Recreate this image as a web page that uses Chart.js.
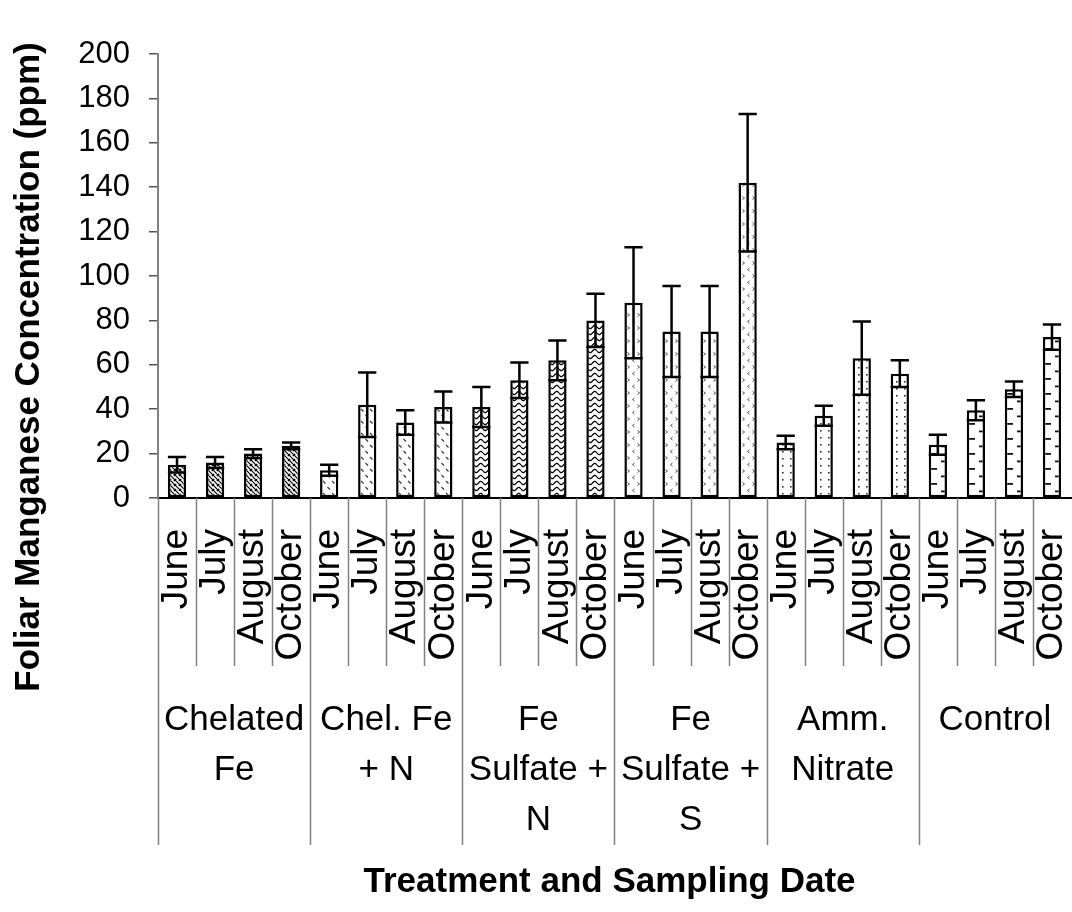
<!DOCTYPE html>
<html>
<head>
<meta charset="utf-8">
<script src="https://cdn.jsdelivr.net/npm/chart.js@4.4.1/dist/chart.umd.min.js"></script>
<style>
  body { margin: 0; background: #fff; }
  canvas { display: block; }
</style>
</head>
<body>
<canvas id="chart" width="1072" height="912"></canvas>
<script>
const months = ['June', 'July', 'August', 'October']
const treatments = [
  ['Chelated', 'Fe'],
  ['Chel. Fe', '+ N'],
  ['Fe', 'Sulfate +', 'N'],
  ['Fe', 'Sulfate +', 'S'],
  ['Amm.', 'Nitrate'],
  ['Control']
]
// mean Mn (ppm), 4 dates per treatment
const chelatedFe = [15, 16, 20, 23.5]
const chelFeN = [12.5, 42, 34, 41]
const feSulfateN = [41, 53, 62, 80]
const feSulfateS = [88, 75, 75, 142]
const ammNitrate = [25, 37, 63, 56]
const control = [24, 39.5, 49, 72.5]
// +/- error
const chelatedFeErr = [3.5, 2.5, 2, 1.5]
const chelFeNErr = [2.5, 14.5, 5.5, 7]
const feSulfateNErr = [9, 8, 9, 12]
const feSulfateSErr = [25, 20.5, 20.5, 31]
const ammNitrateErr = [3, 4.5, 16.5, 6]
const controlErr = [4.5, 4.5, 3.5, 5.7]
const yTicks = [0, 20, 40, 60, 80, 100, 120, 140, 160, 180, 200]

const values = [chelatedFe, chelFeN, feSulfateN, feSulfateS, ammNitrate, control].flat()
const errors = [chelatedFeErr, chelFeNErr, feSulfateNErr, feSulfateSErr, ammNitrateErr, controlErr].flat()
const labels = treatments.flatMap(() => months)

const FONT = "'Liberation Sans', Arial, sans-serif"
const canvas = document.getElementById('chart')
const ctx = canvas.getContext('2d')

function makePattern(w, h, draw) {
  const c = document.createElement('canvas')
  c.width = w
  c.height = h
  const g = c.getContext('2d')
  g.fillStyle = '#fff'
  g.fillRect(0, 0, w, h)
  draw(g)
  return ctx.createPattern(c, 'repeat')
}

const patternDraw = [
  // dense diagonal
  [5, 5, g => {
    g.strokeStyle = '#000'
    g.lineWidth = 1.2
    g.beginPath()
    g.moveTo(-1, -1); g.lineTo(6, 6)
    g.moveTo(3, -1); g.lineTo(6, 2)
    g.moveTo(-1, 3); g.lineTo(2, 6)
    g.stroke()
  }],
  // sparse diagonal dashes
  [9, 12, g => {
    g.strokeStyle = '#333'
    g.lineWidth = 1.1
    g.beginPath()
    g.moveTo(1, 1); g.lineTo(3.5, 3.5)
    g.moveTo(5.5, 7); g.lineTo(8, 9.5)
    g.stroke()
  }],
  // waves
  [9, 6, g => {
    g.strokeStyle = '#000'
    g.lineWidth = 1.2
    g.beginPath()
    for (let x = 0; x <= 9; x += 0.5) {
      const y = 3 + 1.6 * Math.sin(2 * Math.PI * x / 9)
      if (x === 0) g.moveTo(x, y)
      else g.lineTo(x, y)
    }
    g.stroke()
  }],
  // small chevrons
  [10, 13, g => {
    g.strokeStyle = '#555'
    g.lineWidth = 1
    g.beginPath()
    g.moveTo(1.5, 1.5); g.lineTo(3.5, 3); g.lineTo(1.5, 4.5)
    g.moveTo(8.5, 8); g.lineTo(6.5, 9.5); g.lineTo(8.5, 11)
    g.stroke()
  }],
  // dots
  [8, 7, g => {
    g.fillStyle = '#333'
    g.fillRect(3, 3, 1.6, 1.6)
  }],
  // alternating short dashes
  [17, 15, g => {
    g.fillStyle = '#111'
    g.fillRect(0, 3, 6, 1.8)
    g.fillRect(10, 10.5, 6, 1.8)
  }]
]

// one pattern per bar so each can be anchored at its own bar
const barPatterns = values.map((v, i) => {
  const [w, h, draw] = patternDraw[Math.floor(i / 4)]
  return makePattern(w, h, draw)
})

const anchorPatterns = {
  id: 'anchorPatterns',
  beforeDatasetsDraw(chart) {
    const meta = chart.getDatasetMeta(0)
    meta.data.forEach((bar, i) => {
      const left = bar.x - bar.width / 2
      barPatterns[i].setTransform(new DOMMatrix().translate(Math.round(left) + 2, 0))
    })
  }
}

const errorBars = {
  id: 'errorBars',
  afterDatasetsDraw(chart) {
    const { ctx } = chart
    const y = chart.scales.y
    const meta = chart.getDatasetMeta(0)
    ctx.save()
    ctx.strokeStyle = '#000'
    ctx.lineWidth = 2.5
    meta.data.forEach((bar, i) => {
      const hi = y.getPixelForValue(values[i] + errors[i])
      const lo = y.getPixelForValue(values[i] - errors[i])
      const half = bar.width / 2
      ctx.beginPath()
      ctx.moveTo(bar.x, hi); ctx.lineTo(bar.x, lo)
      ctx.moveTo(bar.x - half, hi); ctx.lineTo(bar.x + half, hi)
      ctx.moveTo(bar.x - half, lo); ctx.lineTo(bar.x + half, lo)
      ctx.stroke()
    })
    ctx.restore()
  }
}

const categoryFrame = {
  id: 'categoryFrame',
  afterDraw(chart) {
    const { ctx, chartArea } = chart
    const x = chart.scales.x
    const step = x.getPixelForValue(1) - x.getPixelForValue(0)
    const start = x.getPixelForValue(0) - step / 2
    const base = chartArea.bottom
    ctx.save()
    ctx.strokeStyle = '#808080'
    ctx.lineWidth = 1.5
    for (let k = 0; k < labels.length; k++) {
      const px = Math.round(start + k * step) + 0.5
      ctx.beginPath()
      ctx.moveTo(px, base)
      ctx.lineTo(px, k % 4 === 0 ? base + 347 : base + 168)
      ctx.stroke()
    }

    // treatment names under each group of four
    ctx.fillStyle = '#000'
    ctx.font = `35px ${FONT}`
    ctx.textAlign = 'center'
    ctx.textBaseline = 'middle'
    treatments.forEach((lines, t) => {
      const cx = start + (t * 4 + 2) * step
      lines.forEach((line, j) => {
        ctx.fillText(line, cx, base + 222 + j * 50)
      })
    })

    // axis titles
    ctx.font = `bold 35px ${FONT}`
    ctx.fillText('Treatment and Sampling Date', (chartArea.left + chartArea.right) / 2 - 5, 882)
    ctx.translate(29, 367)
    ctx.rotate(-Math.PI / 2)
    ctx.fillText('Foliar Manganese Concentration (ppm)', 0, 0)
    ctx.restore()
  }
}

new Chart(canvas, {
  type: 'bar',
  data: {
    labels: labels,
    datasets: [{
      data: values,
      backgroundColor: barPatterns,
      borderColor: '#000',
      borderWidth: 2.5,
      borderSkipped: false,
      barPercentage: 0.48,
      categoryPercentage: 1
    }]
  },
  options: {
    responsive: false,
    animation: false,
    layout: { padding: { left: 60, top: 54, right: 1, bottom: 0 } },
    plugins: {
      legend: { display: false },
      tooltip: { enabled: false }
    },
    scales: {
      x: {
        grid: { display: false },
        border: { display: true, color: '#000', width: 2 },
        ticks: {
          autoSkip: false,
          minRotation: 90,
          maxRotation: 90,
          padding: 23,
          color: '#000',
          font: { family: FONT, size: 37 }
        },
        afterFit(scale) {
          scale.height = 414
          scale.paddingLeft = 0
          scale.paddingRight = 0
        }
      },
      y: {
        min: 0,
        max: 200,
        afterBuildTicks(scale) { scale.ticks = yTicks.map(v => ({ value: v })) },
        grid: { display: true, drawOnChartArea: false, drawTicks: true, tickLength: 9, color: '#555', lineWidth: 1.5 },
        border: { display: true, color: '#808080', width: 2 },
        ticks: {
          padding: 19,
          color: '#000',
          font: { family: FONT, size: 31 }
        },
        afterFit(scale) {
          scale.width = 98
          scale.paddingTop = 0
          scale.paddingBottom = 0
        }
      }
    }
  },
  plugins: [anchorPatterns, errorBars, categoryFrame]
})
</script>
</body>
</html>
